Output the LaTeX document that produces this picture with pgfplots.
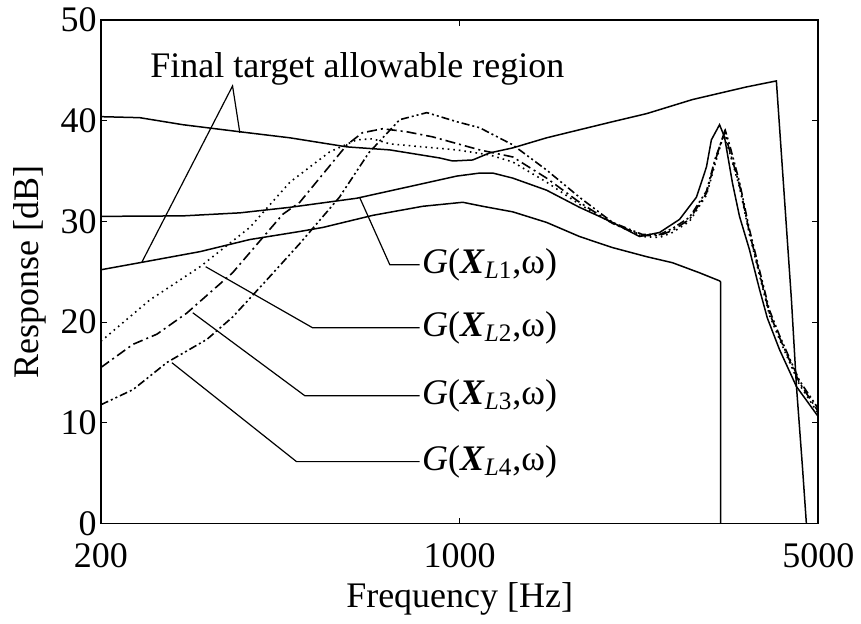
\documentclass[border=0pt]{standalone}
\usepackage{fontspec}
\setmainfont{Liberation Serif}
\usepackage{pgfplots}
\pgfplotsset{compat=1.18}

\newcommand{\lbl}[1]{\textit{G}(\textbf{\textit{X}}\textsubscript{\textit{L}#1},ω)}

\begin{document}
\begin{tikzpicture}
\begin{axis}[
    width=359pt, height=252pt, scale only axis,
    xmode=log, xmin=200, xmax=5000, ymin=0, ymax=50,
    xtick={200,1000,5000}, xticklabels={200,1000,5000}, minor xtick={},
    ytick={0,10,...,50},
    major tick length=3pt,
    tick style={black, line width=0.6pt},
    axis line style={line width=0.9pt},
    /pgf/number format/assume math mode=true,
    tick label style={font=\fontsize{18}{20}\selectfont},
    xticklabel style={inner ysep=0pt, yshift=-10pt},
    yticklabel style={inner xsep=2pt, inner ysep=0pt},
    label style={font=\fontsize{18}{20}\selectfont},
    xlabel={Frequency [Hz]}, ylabel={Response [dB]},
    xlabel style={at={(axis description cs:0.5,-0.1667)}, anchor=base},
    ylabel style={at={(axis description cs:-0.099,0.5)}, anchor=center},
]
% upper bound of the allowable region
\addplot[black, no marks, line width=0.75pt] coordinates {
 (200,40.4) (238,40.3) (289,39.6) (373,38.9) (467,38.3) (603,37.4) (731,37.1)
 (914,36.3) (969,36.0) (1060,36.1) (1144,36.8) (1269,37.3) (1477,38.3)
 (1712,39.1) (1986,39.9) (2313,40.7) (2843,42.1) (3620,43.35) (4141,43.95)
 (4431,22.2) (4532,13.6) (4654,5.7) (4738,0)
};
% lower bound of the allowable region
\addplot[black, no marks, line width=0.75pt] coordinates {
 (200,25.2) (238,25.9) (312,27.0) (390,28.2) (488,29.0) (541,29.4) (677,30.6)
 (847,31.5) (1014,31.9) (1109,31.5) (1269,30.95) (1477,29.9) (1712,28.5)
 (1986,27.4) (2313,26.5) (2598,25.9) (2933,24.9) (3209,24.1) (3223,24.0) (3223,0)
};
% G(X_L1)
\addplot[black, no marks, line width=0.75pt] coordinates {
 (200,30.5) (289,30.55) (373,30.85) (467,31.4) (630,32.3) (789,33.4) (987,34.5)
 (1094,34.8) (1160,34.8) (1269,34.3) (1477,33.1) (1712,31.4) (1986,29.9)
 (2241,28.5) (2452,28.9) (2682,30.2) (2893,32.4) (3026,35.4) (3094,38.1)
 (3209,39.6) (3281,38.4) (3401,33.8) (3510,30.5) (3670,27.2) (3838,23.3)
 (3978,20.4) (4198,17.3) (4532,13.6) (5000,10.6)
};
% G(X_L2)
\addplot[black, no marks, line width=0.8pt, dash pattern=on 0.8pt off 2pt] coordinates {
 (200,18.1) (249,22.2) (312,25.5) (390,29.4) (467,33.9) (558,36.9) (630,38.1)
 (677,38.2) (731,37.7) (847,37.4) (987,37.1) (1144,36.6) (1269,35.9)
 (1477,33.9) (1712,31.7) (1986,29.8) (2271,28.5) (2452,28.4) (2598,28.9)
 (2804,30.0) (3026,32.6) (3150,35.8) (3270,38.6) (3355,36.9) (3510,33.4)
 (3670,28.7) (3838,24.7) (4014,20.7) (4198,18.3) (4592,13.8) (5000,10.9)
};
% G(X_L3)
\addplot[black, no marks, line width=0.8pt, dash pattern=on 5pt off 2pt on 1pt off 2pt] coordinates {
 (200,15.5) (231,17.8) (257,18.8) (294,20.9) (361,24.9) (452,30.7) (488,31.9)
 (603,37.6) (646,38.8) (708,39.2) (789,38.9) (885,38.4) (1094,37.1) (1269,36.4)
 (1477,34.3) (1712,31.9) (1986,29.8) (2271,28.6) (2452,28.6) (2598,29.1)
 (2804,30.2) (3026,32.8) (3150,36.1) (3281,38.9) (3355,37.1) (3510,33.6)
 (3670,28.9) (3838,24.9) (4014,20.9) (4198,18.5) (4592,14.0) (5000,11.1)
};
% G(X_L4)
\addplot[black, no marks, line width=0.8pt, dash pattern=on 4pt off 1.5pt on 1pt off 1.5pt on 1pt off 1.5pt] coordinates {
 (200,11.8) (231,13.3) (269,16.0) (322,18.3) (361,20.5) (421,24.2) (488,27.8)
 (583,32.4) (665,36.8) (764,40.1) (863,40.8) (987,39.9) (1094,39.3) (1269,37.6)
 (1477,35.1) (1712,32.4) (1986,29.9) (2271,28.7) (2452,28.7) (2598,29.3)
 (2804,30.4) (3026,33.0) (3150,36.3) (3295,39.0) (3370,37.3) (3510,33.9)
 (3670,29.2) (3838,25.2) (4014,21.2) (4198,18.7) (4592,14.2) (5000,11.4)
};

\begin{scope}[line width=0.6pt, every node/.style={font=\fontsize{18}{20}\selectfont, inner sep=0pt}]
\node[anchor=base west] at (axis cs:249,44.25) {Final target allowable region};
\draw (axis cs:373,38.8) -- (axis cs:361,43.45) -- (axis cs:240,25.9);
\draw (axis cs:639,32.34) -- (axis cs:731,25.7) -- (axis cs:836,25.7);
\node[anchor=west] at (axis cs:843,25.7) {\lbl{1}};
\draw (axis cs:320,25.5) -- (axis cs:517,19.44) -- (axis cs:836,19.44);
\node[anchor=west] at (axis cs:843,19.44) {\lbl{2}};
\draw (axis cs:302,20.93) -- (axis cs:499,12.70) -- (axis cs:836,12.70);
\node[anchor=west] at (axis cs:843,12.70) {\lbl{3}};
\draw (axis cs:275,15.97) -- (axis cs:481,6.15) -- (axis cs:836,6.15);
\node[anchor=west] at (axis cs:843,6.15) {\lbl{4}};
\end{scope}
\end{axis}
\path (-50.5pt,-50pt) rectangle (380pt,262pt);
\end{tikzpicture}
\end{document}
